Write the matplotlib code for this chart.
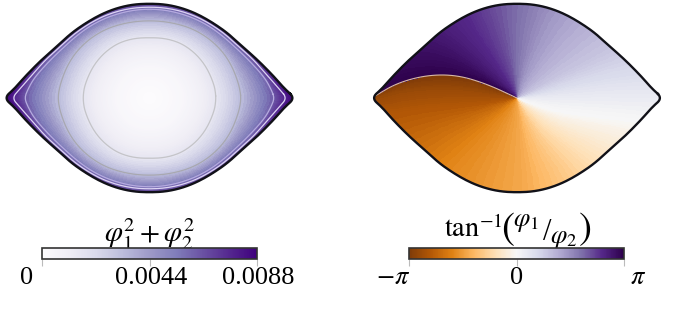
import numpy as np
import matplotlib
matplotlib.use("Agg")
import matplotlib.pyplot as plt
from matplotlib.patches import PathPatch
from matplotlib.path import Path
from matplotlib.transforms import ScaledTranslation

plt.rcParams["font.family"] = ["Liberation Serif", "DejaVu Serif"]
plt.rcParams["mathtext.fontset"] = "stix"

# everything, in reference pixels from the centre of the lens
angles = [0, 4, 10, 20, 30, 40, 50, 60, 70, 80, 90]
r_edge = [145.5, 135.2, 126, 114, 105.5, 101.5, 98.3, 96.7, 95.7, 95, 94.4]
r_light = [137.5, 130, 121, 111, 103, 99, 96, 94, 92.5, 91.5, 91]
r_lilac = [125, 122, 117, 107, 100, 96, 93.5, 91.5, 90, 89.3, 89]
r_mid_c = [91.3, 91, 90, 88.5, 87, 85, 83, 81, 79, 77.8, 77.3]
r_in_c = [66.3, 66.2, 66, 65, 64.5, 64, 63.5, 63, 62, 61, 60.3]
r_soft = [50, 50, 50, 49.5, 49, 48.5, 48, 47.5, 47, 46.5, 46]
r_core = [33, 33, 33, 32.5, 32.5, 32, 32, 31.5, 31, 30.5, 30]

v_edge = [0.0088, 0.0084, 0.0078, 0.0072, 0.0070, 0.0069, 0.0069, 0.0069, 0.0069, 0.0069, 0.0069]
v_light = [0.0080, 0.0076, 0.0070, 0.0065, 0.0062, 0.0062, 0.0062, 0.0062, 0.0062, 0.0062, 0.0062]
v_lilac = [0.0066, 0.0064, 0.0061, 0.0058, 0.0056, 0.0056, 0.0056, 0.0056, 0.0056, 0.0056, 0.0056]
v_mid_c = [0.0034, 0.0034, 0.0034, 0.0034, 0.0034, 0.0034, 0.0034, 0.0034, 0.0034, 0.0034, 0.0034]
v_in_c = [0.0016, 0.0016, 0.0016, 0.0016, 0.0016, 0.0016, 0.0016, 0.0016, 0.0016, 0.0016, 0.0016]
v_soft = [0.0009, 0.0009, 0.0009, 0.0009, 0.0009, 0.0009, 0.0009, 0.0009, 0.0009, 0.0009, 0.0009]
v_core = [0.0004, 0.0004, 0.0004, 0.0004, 0.0004, 0.0004, 0.0004, 0.0004, 0.0004, 0.0004, 0.0004]

# iso-phase lines, centre to beyond the edge, phase in units of pi
phase_levels = [-1, -0.9, -0.8, -0.6, -0.45, -0.25, -0.1, 0, 0.15, 0.3, 0.5, 0.7, 0.8, 0.9, 1]
cut_x = [0, -30, -60, -90, -120, -142]
cut_y = [0, 14, 23, 23, 15, 2]
ray_x = [cut_x,
         [0, -30, -60, -90, -120, -150],
         [0, -27, -55, -85, -115, -150],
         [0, -17, -36, -56, -80, -105],
         [0, 2, 3, 4, 5, 5],
         [0, 12, 25, 40, 60, 75],
         [0, 18, 38, 60, 85, 110],
         [0, 20, 45, 74, 114, 160],
         [0, 30, 60, 90, 120, 160],
         [0, 22, 45, 68, 90, 110],
         [0, 6, 15, 25, 35, 45],
         [0, -5, -12, -18, -22, -26],
         [0, -15, -30, -45, -52, -60],
         [0, -28, -56, -80, -100, -125],
         cut_x]
ray_y = [cut_y,
         [0, 6, 10, 10, 6, -3],
         [0, -5, -8, -10, -14, -20],
         [0, -15, -30, -46, -66, -90],
         [0, -20, -40, -60, -80, -110],
         [0, -18, -35, -50, -70, -90],
         [0, -12, -24, -33, -42, -55],
         [0, -8, -15, -19, -24, -30],
         [0, 5, 10, 14, 16, 20],
         [0, 12, 25, 37, 49, 60],
         [0, 25, 50, 75, 95, 110],
         [0, 25, 50, 75, 90, 105],
         [0, 25, 48, 70, 85, 100],
         [0, 22, 42, 55, 60, 60],
         cut_y]


def mirror(vals):
    # one quadrant to the whole way round
    vals = list(vals)
    return np.array(vals + vals[-2::-1] + vals[1:] + vals[-2::-1], float)


n = len(angles)
th = np.radians(mirror(angles))
th[n:2 * n - 1] = np.pi - th[n:2 * n - 1]
th[2 * n - 1:3 * n - 2] = np.pi + th[2 * n - 1:3 * n - 2]
th[3 * n - 2:] = 2 * np.pi - th[3 * n - 2:]


def cut_corners(v, closed, k=3):
    # corner cutting so the hand-read polylines draw as smooth curves
    v = np.asarray(v, float)
    for _ in range(k):
        if closed:
            a, b = v[:-1], np.r_[v[1:-1], v[0]]
            v = np.column_stack([0.75 * a + 0.25 * b, 0.25 * a + 0.75 * b]).ravel()
            v = np.r_[v, v[0]]
        else:
            a, b = v[:-1], v[1:]
            mid = np.column_stack([0.75 * a + 0.25 * b, 0.25 * a + 0.75 * b]).ravel()
            v = np.r_[v[0], mid, v[-1]]
    return v


def ring(r):
    r = mirror(r)
    return cut_corners(r * np.cos(th), True), cut_corners(r * np.sin(th), True)


def fine(A, k=10):
    # finer rows for a flat mesh, the colours then read as a smooth gradient
    t = np.arange(A.shape[0])
    tf = np.linspace(0, A.shape[0] - 1, (A.shape[0] - 1) * k + 1)
    return np.array([np.interp(tf, t, A[:, j]) for j in range(A.shape[1])]).T


ex, ey = ring(r_edge)
fig = plt.figure(figsize=(6.76, 3.15), dpi=100)
W, H = 676, 315


def px_axes(x0, x1, y0, y1):
    return fig.add_axes([x0 / W, 1 - y1 / H, (x1 - x0) / W, (y1 - y0) / H])


def lens(ax, lw=1.7):
    patch = PathPatch(Path(np.column_stack([ex, ey]), closed=False), fc="none", ec="none")
    ax.add_patch(patch)
    ax.plot(ex, ey, color="#111118", lw=lw, solid_joinstyle="round", zorder=4)
    return patch


def shade(ax, X, Y, C, clip, **kw):
    C = fine(C)
    m = ax.pcolormesh(fine(X), fine(Y), C[:-1, :-1], shading="flat", antialiased=False, **kw)
    m.set_clip_path(clip)
    return m


ax1 = px_axes(0, 338, 0, 205)
ax1.set(xlim=(-149.5, 188.5), ylim=(-107, 98))
ax1.axis("off")
clip = lens(ax1)
r_out = [1.05 * r for r in r_edge]
rings = [np.zeros(n), r_core, r_soft, r_in_c, r_mid_c, r_lilac, r_light, r_edge, r_out]
vals = [np.zeros(n), v_core, v_soft, v_in_c, v_mid_c, v_lilac, v_light, v_edge, v_edge]
X = np.array([ring(r)[0] for r in rings])
Y = np.array([ring(r)[1] for r in rings])
C = np.array([cut_corners(mirror(v), True) for v in vals])
m1 = shade(ax1, X, Y, C, clip, cmap="Purples", vmin=0, vmax=0.0088)
ax1.plot(*ring(r_in_c), color="#c4c4c8", lw=0.9)
ax1.plot(*ring(r_mid_c), color="#a8a8b0", lw=0.9)
ax1.plot(*ring(r_lilac), color="#b5aadf", lw=0.9)
ax1.plot(*ring(r_light), color="#ddd4f4", lw=0.9)

ax2 = px_axes(338, 676, 0, 205)
ax2.set(xlim=(-179, 159), ylim=(-107, 98))
ax2.axis("off")
clip = lens(ax2)
RX = np.array([cut_corners(r, False) for r in ray_x])
RY = np.array([cut_corners(r, False) for r in ray_y])
C = np.array(phase_levels)[:, None] * np.pi * np.ones((1, RX.shape[1]))
m2 = shade(ax2, RX, RY, C, clip, cmap="PuOr", vmin=-np.pi, vmax=np.pi)
ax2.plot(RX[0], RY[0], color="#d9b9a6", lw=0.8)


def bar(x0, mappable, ticks, labels, shifts):
    cax = px_axes(x0, x0 + 215, 248, 259)
    cb = fig.colorbar(mappable, cax=cax, orientation="horizontal")
    cb.outline.set_edgecolor("#333333")
    cb.outline.set_linewidth(1.2)
    cb.set_ticks(ticks, labels=labels)
    cax.tick_params(axis="x", length=5, width=0.8, color="#bbbbbb", labelsize=19, pad=1)
    for lab, s in zip(cax.get_xticklabels(), shifts):
        lab.set_transform(lab.get_transform() + ScaledTranslation(s / 100, 0, fig.dpi_scale_trans))


bar(42, m1, [0, 0.0044, 0.0088], ["0", "0.0044", "0.0088"], [-15, 2, 1])
bar(409, m2, [-np.pi, 0, np.pi], [r"$-\pi$", "0", r"$\pi$"], [-16, 0, 14])


def label(x, y, s, size):
    fig.text(x / W, 1 - y / H, s, fontsize=size, ha="center", va="center", zorder=-1)


label(150, 234, r"$\varphi_1^2+\varphi_2^2$", 21)
label(473, 229, r"$\tan^{-1}$", 20.5)
label(508, 229, r"$($", 28)
label(526, 223, r"$\varphi_1$", 19)
label(547, 232, "/", 22)
label(564, 240, r"$\varphi_2$", 19)
label(585, 229, r"$)$", 28)

fig.savefig("out.png", dpi=100)
